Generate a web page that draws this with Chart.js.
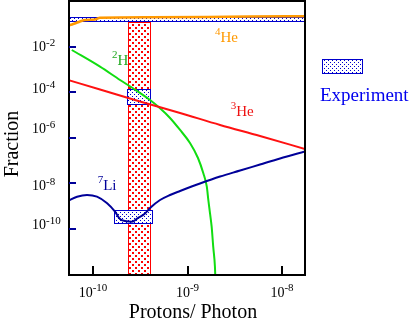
<!DOCTYPE html>
<html><head><meta charset="utf-8">
<script src="https://cdn.jsdelivr.net/npm/chart.js@4.4.0/dist/chart.umd.min.js"></script>
<style>html,body{margin:0;padding:0;background:#fff;}#wrap{width:412px;height:325px;position:relative}</style>
</head><body><div id="wrap"><canvas id="c" width="412" height="325"></canvas></div>
<script>
// ---------- DATA ----------
// x = protons per photon (eta), y = abundance fraction
const etaHe4  = [5.43e-11, 6.0e-11, 6.61e-11, 7.28e-11, 8.23e-11, 1.05e-10, 1.186e-10, 4.01e-10, 1.65e-9, 4.58e-9, 1.75e-8];
const fracHe4 = [0.0881, 0.0975, 0.1135, 0.132, 0.154, 0.162, 0.192, 0.202, 0.208, 0.219, 0.223];

const etaD  = [5.96e-11, 1.186e-10, 1.93e-10, 2.65e-10, 4.01e-10, 5.12e-10, 6.53e-10, 8.34e-10, 1.062e-9, 1.29e-9, 1.47e-9, 1.60e-9, 1.66e-9, 1.73e-9, 1.80e-9, 1.87e-9, 1.95e-9, 1.97e-9];
const fracD = [7.38e-3, 1.36e-3, 3.54e-4, 1.53e-4, 4.68e-5, 2.02e-5, 7.59e-6, 2.25e-6, 6.03e-7, 1.32e-7, 2.81e-8, 7.23e-9, 1.88e-9, 4.9e-10, 1.26e-10, 1.67e-11, 2.2e-12, 7e-13];

const etaHe3  = [5.43e-11, 1.186e-10, 3.14e-10, 8.34e-10, 2.21e-9, 5.85e-9, 1.75e-8];
const fracHe3 = [3.54e-4, 1.355e-4, 4.02e-5, 1.256e-5, 3.73e-6, 1.224e-6, 3.28e-7];

const etaLi7  = [5.43e-11, 6.78e-11, 8.64e-11, 1.10e-10, 1.41e-10, 1.71e-10, 1.93e-10, 2.18e-10, 2.59e-10, 2.95e-10, 3.55e-10, 4.01e-10, 5.12e-10, 6.53e-10, 8.34e-10, 1.355e-9, 2.21e-9, 3.60e-9, 5.85e-9, 9.53e-9, 1.75e-8];
const fracLi7 = [1.75e-9, 2.63e-9, 3.13e-9, 2.63e-9, 1.35e-9, 5.75e-10, 2.75e-10, 2.25e-10, 2.09e-10, 2.95e-10, 4.81e-10, 8.38e-10, 1.88e-9, 3.13e-9, 4.68e-9, 1.0e-8, 2.03e-8, 3.72e-8, 6.84e-8, 1.26e-7, 2.55e-7];

// experimental boxes: [etaLow, etaHigh], [fracLow, fracHigh]
const boxHe4Eta = [5.57e-11, 1.75e-8], boxHe4Frac = [0.13, 0.21];
const boxDEta   = [2.29e-10, 4.1e-10], boxDFrac   = [2.82e-5, 1.38e-4];
const boxLiEta  = [1.66e-10, 4.35e-10], boxLiFrac = [1.67e-10, 6.6e-10];
// allowed baryon band
const bandEta  = [2.32e-10, 4.06e-10], bandFrac = [9.5e-13, 0.13];

// axis
const xMin = 5.57e-11, xMax = 1.75e-8;
const yMin = 9.5e-13, yMax = 1.05;
const xTickVals = [1e-10, 1e-9, 1e-8];
const xTickExp  = ['-10', '-9', '-8'];
const yTickVals = [1e-2, 1e-4, 1e-6, 1e-8, 1e-10];
const yTickExp  = ['-2', '-4', '-6', '-8', '-10'];

// curve labels
const labelSup  = ['2', '4', '3', '7'];
const labelMain = ['H', 'He', 'He', 'Li'];
const labelEta  = [1.59e-10, 1.95e-9, 2.86e-9, 1.12e-10];
const labelFrac = [1.62e-3, 1.66e-2, 9.27e-6, 5.18e-9];

// ---------- STYLE ----------
const C_HE4 = '#ff9900', C_D = '#11dd11', C_HE3 = '#ff1111', C_LI = '#000099';
const C_BOX = '#0000cc', C_BAND = '#ff0000';
const labelColors = ['#22aa22', '#ff9900', '#ee1111', '#000099'];
const yLabelShift = [-1, -4, -10, 2, -5];
const SERIF = '"Liberation Serif", "Times New Roman", serif';

function pts(xs, ys){ return xs.map((v,i)=>({x:v, y:ys[i]})); }

function dotPattern(ctx, color, size, dot){
  const c = document.createElement('canvas'); c.width = size; c.height = size;
  const g = c.getContext('2d');
  g.fillStyle = '#fff'; g.fillRect(0,0,size,size);
  g.fillStyle = color;
  g.fillRect(0, 0, dot, dot); g.fillRect(size/2, size/2, dot, dot);
  return ctx.createPattern(c, 'repeat');
}
const redPat  = ctx => dotPattern(ctx, C_BAND, 6, 2);
const bluePat = ctx => dotPattern(ctx, C_BOX, 4, 1);

function drawBox(ctx, x, y, ex, fy, fill, stroke){
  const l = Math.round(x.getPixelForValue(ex[0])), r = Math.round(x.getPixelForValue(ex[1]));
  const t = Math.round(y.getPixelForValue(fy[1])), b = Math.round(y.getPixelForValue(fy[0]));
  ctx.fillStyle = fill; ctx.fillRect(l, t, r-l, b-t);
  ctx.strokeStyle = stroke; ctx.lineWidth = 1;
  ctx.strokeRect(l+0.5, t+0.5, r-l-1, b-t-1);
}

const decor = {
  id: 'decor',
  beforeDatasetsDraw(chart){
    const {ctx, chartArea:a, scales:{x, y}} = chart;
    ctx.save();
    ctx.beginPath(); ctx.rect(a.left, a.top, a.right-a.left, a.bottom-a.top); ctx.clip();
    drawBox(ctx, x, y, bandEta, bandFrac, redPat(ctx), C_BAND);
    const blue = bluePat(ctx);
    drawBox(ctx, x, y, boxHe4Eta, boxHe4Frac, blue, C_BOX);
    drawBox(ctx, x, y, boxDEta, boxDFrac, blue, C_BOX);
    drawBox(ctx, x, y, boxLiEta, boxLiFrac, blue, C_BOX);
    ctx.restore();
  },
  afterDraw(chart){
    const {ctx, chartArea:a, scales:{x, y}} = chart;
    ctx.save();
    ctx.strokeStyle = '#000'; ctx.lineWidth = 2;
    ctx.strokeRect(a.left, a.top, a.right-a.left, a.bottom-a.top);
    ctx.fillStyle = C_LI;
    yTickVals.forEach(v => { const py = Math.round(y.getPixelForValue(v)); ctx.fillRect(a.left, py-1, 7, 2); });
    ctx.fillStyle = '#000';
    xTickVals.forEach(v => { const px = Math.round(x.getPixelForValue(v)); ctx.fillRect(px-1, a.bottom-9, 2, 9); });

    const mainF = '14px ' + SERIF, supF = '11px ' + SERIF;
    ctx.textBaseline = 'alphabetic'; ctx.textAlign = 'left'; ctx.fillStyle = '#000';
    yTickVals.forEach((v,i) => {
      const base = y.getPixelForValue(v) + yLabelShift[i] + 5;
      ctx.font = mainF; ctx.fillText('10', 32, base);
      const w = ctx.measureText('10').width;
      ctx.font = supF; ctx.fillText(yTickExp[i], 32 + w, base - 5);
    });
    xTickVals.forEach((v,i) => {
      ctx.font = mainF; const w1 = ctx.measureText('10').width;
      ctx.font = supF;  const w2 = ctx.measureText(xTickExp[i]).width;
      const left = x.getPixelForValue(v) - (w1 + w2)/2;
      const base = 297;
      ctx.font = mainF; ctx.fillText('10', left, base);
      ctx.font = supF; ctx.fillText(xTickExp[i], left + w1, base - 6);
    });
    ctx.font = '20px ' + SERIF; ctx.fillStyle = '#000';
    ctx.textAlign = 'center';
    ctx.fillText('Protons/ Photon', 193, 318);
    ctx.save(); ctx.translate(18, 144); ctx.rotate(-Math.PI/2);
    ctx.fillText('Fraction', 0, 0); ctx.restore();
    ctx.textAlign = 'left';
    labelMain.forEach((m,i) => {
      ctx.fillStyle = labelColors[i];
      const px = x.getPixelForValue(labelEta[i]), py = y.getPixelForValue(labelFrac[i]);
      ctx.font = '11px ' + SERIF; ctx.fillText(labelSup[i], px, py - 7);
      const w = ctx.measureText(labelSup[i]).width;
      ctx.font = '15px ' + SERIF; ctx.fillText(m, px + w, py);
    });
    ctx.fillStyle = bluePat(ctx); ctx.fillRect(322, 59, 41, 15);
    ctx.strokeStyle = C_BOX; ctx.lineWidth = 1; ctx.strokeRect(322.5, 59.5, 40, 14);
    ctx.fillStyle = '#0000ee'; ctx.font = '19px ' + SERIF;
    ctx.fillText('Experiment', 320, 101);
    ctx.restore();
  }
};

const ds = (label, xs, ys, color, w) => ({
  label, data: pts(xs, ys), showLine: true, borderColor: color, backgroundColor: color,
  borderWidth: w, pointRadius: 0, fill: false, cubicInterpolationMode: 'monotone'
});

new Chart(document.getElementById('c'), {
  type: 'scatter',
  data: { datasets: [
    ds('4He', etaHe4, fracHe4, C_HE4, 2.5),
    ds('3He', etaHe3, fracHe3, C_HE3, 2),
    ds('7Li', etaLi7, fracLi7, C_LI, 2),
    ds('2H', etaD, fracD, C_D, 2)
  ]},
  options: {
    responsive: false, animation: false, devicePixelRatio: 1,
    layout: { padding: { left: 69, right: 107, top: 1, bottom: 50 } },
    plugins: { legend: { display: false }, tooltip: { enabled: false } },
    scales: {
      x: { type: 'logarithmic', min: xMin, max: xMax, display: false },
      y: { type: 'logarithmic', min: yMin, max: yMax, display: false }
    }
  },
  plugins: [decor]
});
</script></body></html>
